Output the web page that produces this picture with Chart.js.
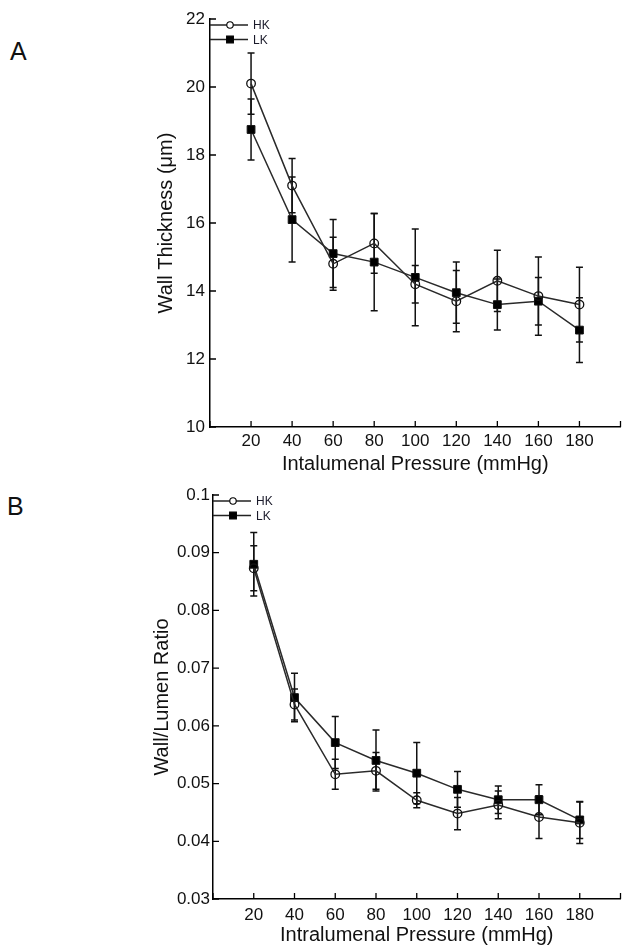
<!DOCTYPE html>
<html>
<head>
<meta charset="utf-8">
<script src="https://cdn.jsdelivr.net/npm/chart.js@4.4.1/dist/chart.umd.min.js"></script>
<style>
  body { margin: 0; background: #fff; width: 627px; height: 947px; position: relative; overflow: hidden;
         font-family: "Liberation Sans", Arial, sans-serif; }
  canvas { position: absolute; left: 0; }
  #chartA { top: 0; }
  #chartB { top: 478px; }
  .panel { position: absolute; font-size: 25px; line-height: 25px; color: #111; }
</style>
</head>
<body>
<div class="panel" style="left:10px; top:39px">A</div>
<div class="panel" style="left:7px; top:494px">B</div>
<canvas id="chartA" width="627" height="478"></canvas>
<canvas id="chartB" width="627" height="469"></canvas>
<script>
// pressure steps (mmHg)
const pressures = [20, 40, 60, 80, 100, 120, 140, 160, 180];

// panel A - wall thickness (um), mean and error
const hkThickness = [20.1, 17.1, 14.8, 15.4, 14.2, 13.7, 14.3, 13.85, 13.6];
const hkThicknessErr = [0.9, 0.8, 0.78, 0.88, 0.55, 0.9, 0.9, 1.15, 1.1];
const lkThickness = [18.75, 16.1, 15.1, 14.85, 14.4, 13.95, 13.6, 13.7, 12.85];
const lkThicknessErr = [0.9, 1.25, 1.0, 1.43, 1.42, 0.9, 0.75, 0.7, 0.95];

// panel B - wall/lumen ratio, mean and error
const hkRatio = [0.0873, 0.0637, 0.0516, 0.0522, 0.0471, 0.0448, 0.0463, 0.0442, 0.0432];
const hkRatioErr = [0.0039, 0.0027, 0.0026, 0.0032, 0.0013, 0.0028, 0.0024, 0.0037, 0.0036];
const lkRatio = [0.0880, 0.0649, 0.0571, 0.0540, 0.0518, 0.0490, 0.0472, 0.0472, 0.0437];
const lkRatioErr = [0.0055, 0.0042, 0.0045, 0.0053, 0.0053, 0.0031, 0.0024, 0.0026, 0.0032];

// ticks
const xTicks = [0, 20, 40, 60, 80, 100, 120, 140, 160, 180, 200];
const xTickLabels = ['', '20', '40', '60', '80', '100', '120', '140', '160', '180', ''];
const thicknessTicks = [10, 12, 14, 16, 18, 20, 22];
const thicknessTickLabels = ['10', '12', '14', '16', '18', '20', '22'];
const ratioTicks = [0.03, 0.04, 0.05, 0.06, 0.07, 0.08, 0.09, 0.1];
const ratioTickLabels = ['0.03', '0.04', '0.05', '0.06', '0.07', '0.08', '0.09', '0.1'];

Chart.defaults.font.family = '"Liberation Sans", Arial, sans-serif';
Chart.defaults.color = '#111';

// error bars, inward tick marks and the little legend in the corner
const framePlugin = {
  id: 'frame',
  beforeDatasetsDraw(chart) {
    const { ctx, scales: { x, y } } = chart;
    ctx.save();
    ctx.strokeStyle = '#111';
    ctx.lineWidth = 1.5;
    chart.data.datasets.forEach(ds => {
      ds.data.forEach((pt, i) => {
        const e = ds.errors[i];
        const px = x.getPixelForValue(pt.x);
        const top = y.getPixelForValue(pt.y + e);
        const bot = y.getPixelForValue(pt.y - e);
        ctx.beginPath();
        ctx.moveTo(px, top); ctx.lineTo(px, bot);
        ctx.moveTo(px - 3.5, top); ctx.lineTo(px + 3.5, top);
        ctx.moveTo(px - 3.5, bot); ctx.lineTo(px + 3.5, bot);
        ctx.stroke();
      });
    });
    ctx.restore();
  },
  afterDraw(chart) {
    const { ctx, scales: { x, y }, chartArea: a } = chart;
    ctx.save();
    ctx.strokeStyle = '#000';
    ctx.lineWidth = 1.3;
    ctx.beginPath();
    x.ticks.forEach(t => {
      const px = x.getPixelForValue(t.value);
      ctx.moveTo(px, a.bottom); ctx.lineTo(px, a.bottom - 6);
    });
    y.ticks.forEach(t => {
      const py = y.getPixelForValue(t.value);
      ctx.moveTo(a.left, py); ctx.lineTo(a.left + 6, py);
    });
    ctx.stroke();

    // legend
    chart.data.datasets.forEach((ds, i) => {
      const ly = a.top + 6 + i * 14.5;
      ctx.strokeStyle = '#222';
      ctx.lineWidth = 1.4;
      ctx.beginPath();
      ctx.moveTo(a.left, ly); ctx.lineTo(a.left + 38, ly);
      ctx.stroke();
      ctx.fillStyle = ds.pointStyle === 'circle' ? '#fff' : '#000';
      ctx.strokeStyle = '#000';
      ctx.lineWidth = 1.1;
      Chart.helpers.drawPoint(ctx, {
        pointStyle: ds.pointStyle,
        radius: ds.pointStyle === 'circle' ? 3.2 : 4.8,
        borderWidth: 1.1,
        rotation: 0
      }, a.left + 20, ly);
      ctx.fillStyle = '#1a1a2a';
      ctx.font = '12px "Liberation Sans", Arial, sans-serif';
      ctx.textBaseline = 'middle';
      ctx.textAlign = 'left';
      ctx.fillText(ds.label, a.left + 43, ly + 1);
    });
    ctx.restore();
  }
};

function series(label, values, errors, isHK) {
  return {
    label: label,
    data: pressures.map((p, i) => ({ x: p, y: values[i] })),
    errors: errors,
    borderColor: '#2a2a2a',
    borderWidth: 1.5,
    tension: 0,
    pointStyle: isHK ? 'circle' : 'rect',
    pointRadius: isHK ? 4.3 : 5.5,
    pointBorderWidth: isHK ? 1.3 : 1,
    pointBorderColor: '#111',
    pointBackgroundColor: isHK ? 'rgba(0,0,0,0)' : '#000'
  };
}

function makeChart(id, datasets, opt) {
  const ctx = document.getElementById(id).getContext('2d');
  return new Chart(ctx, {
    type: 'line',
    data: { datasets: datasets },
    plugins: [framePlugin],
    options: {
      responsive: false,
      animation: false,
      layout: { padding: { left: opt.padLeft, top: opt.padTop, right: opt.padRight, bottom: 0 } },
      plugins: { legend: { display: false }, tooltip: { enabled: false } },
      scales: {
        x: {
          type: 'linear',
          min: 0,
          max: 200,
          afterBuildTicks: s => { s.ticks = xTicks.map(v => ({ value: v })); },
          afterFit: s => { s.height = opt.xHeight; },
          grid: { display: false, drawTicks: false },
          border: { display: true, color: '#000', width: 1.5 },
          ticks: {
            autoSkip: false, maxRotation: 0, padding: opt.xTickPad,
            font: { size: 17 }, color: '#111',
            callback: (v, i) => xTickLabels[i]
          },
          title: {
            display: true, text: opt.xTitle, color: '#111',
            font: { size: 20 }, padding: { top: 0, bottom: opt.xTitlePad }
          }
        },
        y: {
          type: 'linear',
          min: opt.yTicks[0],
          max: opt.yTicks[opt.yTicks.length - 1],
          afterBuildTicks: s => { s.ticks = opt.yTicks.map(v => ({ value: v })); },
          afterFit: s => { s.width = opt.yWidth; },
          grid: { display: false, drawTicks: false },
          border: { display: true, color: '#000', width: 1.5 },
          ticks: {
            padding: opt.yTickPad, font: { size: 17 }, color: '#111',
            callback: (v, i) => opt.yLabels[i]
          },
          title: {
            display: true, text: opt.yTitle, color: '#111',
            font: { size: 20 }, padding: { top: 2, bottom: 0 }
          }
        }
      }
    }
  });
}

makeChart('chartA', [
  series('HK', hkThickness, hkThicknessErr, true),
  series('LK', lkThickness, lkThicknessErr, false)
], {
  padLeft: 152, padTop: 19, padRight: 2,
  xHeight: 51, yWidth: 58, xTickPad: 4, yTickPad: 5, xTitlePad: 2,
  yTicks: thicknessTicks, yLabels: thicknessTickLabels,
  xTitle: 'Intalumenal Pressure (mmHg)', yTitle: 'Wall Thickness (\u03bcm)'
});

makeChart('chartB', [
  series('HK', hkRatio, hkRatioErr, true),
  series('LK', lkRatio, lkRatioErr, false)
], {
  padLeft: 148, padTop: 17, padRight: 0,
  xHeight: 48, yWidth: 65, xTickPad: 6, yTickPad: 3, xTitlePad: 0,
  yTicks: ratioTicks, yLabels: ratioTickLabels,
  xTitle: 'Intralumenal Pressure (mmHg)', yTitle: 'Wall/Lumen Ratio'
});
</script>
</body>
</html>
